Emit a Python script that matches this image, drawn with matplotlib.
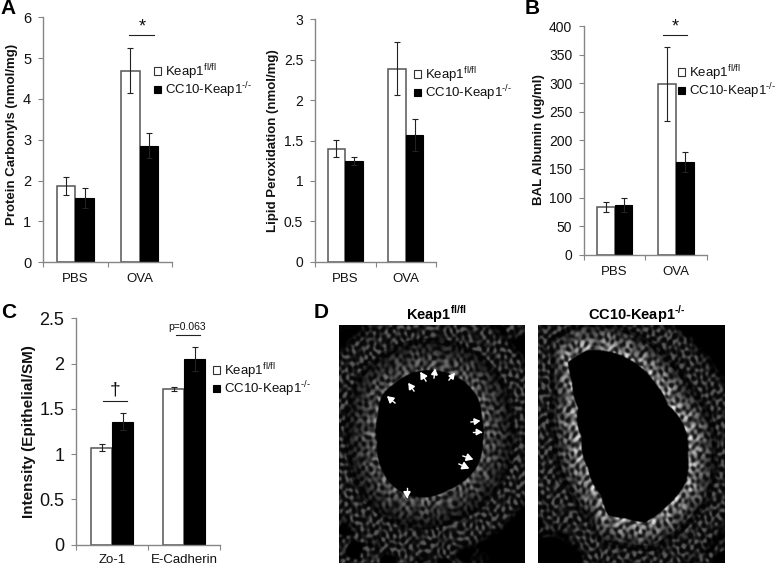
import numpy as np
import matplotlib
matplotlib.use("Agg")
import matplotlib.pyplot as plt
from matplotlib.patches import Patch
from matplotlib.transforms import Affine2D

plt.rcParams['font.family'] = ['Liberation Sans', 'DejaVu Sans']
plt.rcParams['mathtext.fontset'] = 'custom'
plt.rcParams['mathtext.rm'] = 'Liberation Sans'
plt.rcParams['mathtext.bf'] = 'Liberation Sans:bold'

W, H = 775, 567

groups_ab = ["PBS", "OVA"]
groups_c = ["Zo-1", "E-Cadherin"]
legend_labels = ["Keap1$^{\\mathregular{fl/fl}}$", "CC10-Keap1$^{\\mathregular{\u2010/\u2010}}$"]

carbonyl_wt = [1.88, 4.69]
carbonyl_ko = [1.58, 2.86]
carbonyl_wt_err = [0.22, 0.55]
carbonyl_ko_err = [0.25, 0.30]

lipid_wt = [1.40, 2.39]
lipid_ko = [1.25, 1.57]
lipid_wt_err = [0.11, 0.33]
lipid_ko_err = [0.05, 0.20]

albumin_wt = [84, 299]
albumin_ko = [87, 162]
albumin_wt_err = [9, 65]
albumin_ko_err = [12, 17]

intensity_wt = [1.07, 1.72]
intensity_ko = [1.36, 2.05]
intensity_wt_err = [0.04, 0.02]
intensity_ko_err = [0.09, 0.13]

# outlines of the airway lumens in panel D, in pixels of the figure
lumen_left = [(412, 373), (425, 370), (448, 373), (465, 382), (478, 398), (482, 418),
              (483, 442), (478, 465), (465, 480), (448, 490), (428, 497), (408, 495),
              (392, 485), (380, 465), (377, 442), (378, 415), (382, 395), (395, 383)]
lumen_right = [(568, 362), (588, 350), (615, 353), (638, 365), (655, 383), (668, 405),
               (685, 428), (688, 455), (686, 482), (668, 505), (645, 522), (625, 518),
               (608, 515), (601, 495), (588, 468), (582, 438), (578, 408), (572, 382)]
# black spaces around the airways: x, y, radius
holes_left = [(425, 328, 34), (350, 345, 18), (512, 530, 38), (520, 360, 18), (345, 395, 10)]
holes_right = [(705, 365, 34), (695, 325, 20), (545, 450, 18), (716, 520, 16), (590, 328, 14), (555, 555, 18), (722, 430, 14)]
# waves of the speckle: x frequency, y frequency, warp
waves = [(0.83, 0.11, 2.3), (0.13, 0.71, 2.7), (0.53, 0.61, 2.1), (0.67, -0.47, 1.9),
         (0.37, 0.89, 2.9), (0.97, -0.29, 1.7), (0.23, -0.59, 3.1)]
arrows_left = [(395, 403, 388, 397), (414, 391, 409, 384), (426, 381, 421, 373),
               (434, 378, 435, 370), (449, 380, 454, 374), (471, 422, 479, 421),
               (473, 432, 481, 432), (463, 456, 472, 459), (459, 464, 468, 468),
               (407, 488, 407, 497)]

fig = plt.figure(figsize=(W / 100, H / 100), dpi=100)
px = Affine2D().scale(1 / W, -1 / H).translate(0, 1) + fig.transFigure


def bars(box, wt, ko, wt_err, ko_err, names, ymax, step, ticklabels, ylabel, label_xy,
         legend_xy, fs=9.5, yfs=10.5, lab_fs=9.5, xpad=8):
    x0, x1, ytop, ybot = box
    ax = fig.add_axes([x0 / W, 1 - ybot / H, (x1 - x0) / W, (ybot - ytop) / H])
    pos = np.arange(len(names)) + 0.5
    w = 0.29
    ax.bar(pos - w / 2, wt, w, color="white", edgecolor="#555555", linewidth=1.1, zorder=2)
    ax.bar(pos + w / 2, ko, w, color="black", edgecolor="black", linewidth=0.8, zorder=2)
    ax.errorbar(pos - w / 2, wt, yerr=wt_err, fmt="none", ecolor="#222222", elinewidth=0.8,
                capsize=2.4, capthick=0.8, zorder=3)
    ax.errorbar(pos + w / 2, ko, yerr=ko_err, fmt="none", ecolor="#222222", elinewidth=0.8,
                capsize=2.4, capthick=0.8, zorder=3)
    ax.set_xlim(0, len(names))
    ax.set_ylim(0, ymax)
    ax.spines[["top", "right"]].set_visible(False)
    ax.spines[["left", "bottom"]].set_color("#868686")
    ax.spines[["left", "bottom"]].set_linewidth(1.0)
    ax.set_yticks(np.arange(0, ymax + step / 2, step), ticklabels, fontsize=yfs)
    ax.set_xticks(np.arange(len(names) + 1), [""] * (len(names) + 1))
    ax.set_xticks(pos, names, minor=True, fontsize=fs)
    ax.tick_params(axis="y", length=3.5, width=0.8, color="#868686", pad=5, labelcolor="#111111")
    ax.tick_params(axis="x", which="major", length=3.5, width=0.8, color="#868686")
    ax.tick_params(axis="x", which="minor", length=0, pad=xpad, labelcolor="#111111")
    fig.text(label_xy[0], label_xy[1], ylabel, transform=px, rotation=90, fontsize=lab_fs,
             fontweight="bold", ha="center", va="center", color="#111111")
    handles = [Patch(facecolor="white", edgecolor="#333333", linewidth=0.8),
               Patch(facecolor="black", edgecolor="black", linewidth=0.8)]
    fig.legend(handles, legend_labels, loc="upper left", bbox_to_anchor=legend_xy,
               bbox_transform=px, frameon=False, fontsize=fs, borderpad=0, borderaxespad=0,
               handlelength=0.55, handleheight=0.55, handletextpad=0.25, labelspacing=-0.1,
               labelcolor="#111111")
    return ax


def sig_line(x0, x1, y, label, tx, ty, fs):
    fig.add_artist(plt.Line2D([x0, x1], [y, y], transform=px, color="#222222", lw=0.8))
    fig.text(tx, ty, label, transform=px, ha="center", va="center", fontsize=fs, color="#111111")


def soften(img):
    kernel = np.array([1, 2, 1]) / 4
    img = np.apply_along_axis(np.convolve, 0, img, kernel, mode="same")
    return np.apply_along_axis(np.convolve, 1, img, kernel, mode="same")


def micrograph(box, lumen, holes, level, thick):
    x0, x1, y0, y1 = box
    ax = fig.add_axes([x0 / W, 1 - y1 / H, (x1 - x0) / W, (y1 - y0) / H])
    yy, xx = np.mgrid[y0:y1:0.5, x0:x1:0.5]
    pts = np.array(lumen, dtype=float)
    cx, cy = pts.mean(axis=0)
    ang = np.arctan2(pts[:, 1] - cy, pts[:, 0] - cx)
    rad = np.hypot(pts[:, 0] - cx, pts[:, 1] - cy)
    order = np.argsort(ang)
    r = np.hypot(xx - cx, yy - cy)
    theta = np.arctan2(yy - cy, xx - cx)
    edge = np.interp(theta, ang[order], rad[order], period=2 * np.pi)
    d = r - edge
    # irregular speckle made from warped waves
    speck = sum(np.sin(fx * xx + fy * yy + warp * np.sin(0.07 * xx * warp - 0.05 * yy))
                for fx, fy, warp in waves)
    speck = np.clip(0.5 + speck / 5, 0, 1)
    # cells sit side by side along the wall
    cells = 0.5 + 0.5 * np.sin(theta * 31 + 1.5 * np.sin(theta * 5))
    fade = np.clip(1.2 - np.maximum(d, 0) / (thick * 1.2), 0.35, 1.2)
    ring = level * (0.08 + 0.38 * speck + 0.22 * cells * speck) * fade
    outer = 0.03 + 0.32 * speck ** 2
    space = np.ones_like(d)
    for hx, hy, hr in holes:
        space *= np.clip(np.hypot(xx - hx, yy - hy) / hr - 0.85, 0, 1)
    web = np.clip(3.0 * (np.sin(0.17 * xx + 1.5 * np.sin(0.07 * yy)) * np.sin(0.15 * yy + 1.3 * np.sin(0.06 * xx)) + 0.3), 0, 1)
    near = np.clip((thick + 38 - d) / 10, 0, 1)
    outer = outer * np.maximum(web, near) * np.maximum(space, near)
    img = outer.copy()
    band = (d >= thick) & (d < thick + 6)
    img[band] = 0.4 * outer[band]
    img[d < thick] = ring[d < thick]
    img[d < 0] = 0.0
    img = soften(img)
    ax.imshow(img, cmap="gray", vmin=0, vmax=1, extent=[x0, x1, y1, y0], aspect="auto",
              interpolation="bilinear")
    ax.set_xticks([])
    ax.set_yticks([])
    ax.spines[:].set_visible(False)
    return ax


bars((43, 172, 17.3, 262.3), carbonyl_wt, carbonyl_ko, carbonyl_wt_err, carbonyl_ko_err, groups_ab,
     6, 1, ["0", "1", "2", "3", "4", "5", "6"], "Protein Carbonyls (nmol/mg)", (12, 134), (154, 62))
sig_line(129.3, 153.7, 34.7, "*", 142, 27, 13)

bars((315, 436, 19.3, 261.7), lipid_wt, lipid_ko, lipid_wt_err, lipid_ko_err, groups_ab,
     3, 0.5, ["0", "0.5", "1", "1.5", "2", "2.5", "3"], "Lipid Peroxidation (nmol/mg)", (273, 141), (414, 65),
     yfs=10)

bars((584, 706.7, 26, 254.7), albumin_wt, albumin_ko, albumin_wt_err, albumin_ko_err, groups_ab,
     400, 50, ["0", "50", "100", "150", "200", "250", "300", "350", "400"], "BAL Albumin (ug/ml)",
     (539, 140), (678, 63), yfs=10)
sig_line(663, 687, 34.7, "*", 675, 27, 13)

bars((76, 220.3, 318.3, 544.7), intensity_wt, intensity_ko, intensity_wt_err, intensity_ko_err, groups_c,
     2.5, 0.5, ["0", "0.5", "1", "1.5", "2", "2.5"], "Intensity (Epithelial/SM)", (29, 432), (213, 361),
     yfs=13, lab_fs=11, xpad=7)
sig_line(102.7, 127, 401, "\u2020", 115, 390, 14)
sig_line(176, 200, 335.3, "p=0.063", 186.7, 327, 7.5)

for letter, lx, ly in [("A", 0, 9), ("B", 525, 9), ("C", 1, 312), ("D", 314, 312)]:
    fig.text(lx, ly, letter, transform=px, fontsize=15, fontweight="bold", ha="left", va="center")

micrograph((339.3, 525.3, 325.3, 562.7), lumen_left, holes_left, 0.75, 26)
micrograph((538.3, 725, 325.3, 562.7), lumen_right, holes_right, 1.2, 24)
for x_a, y_a, x_b, y_b in arrows_left:
    fig.add_artist(plt.Line2D([x_a, x_b], [y_a, y_b], transform=px, color="white", lw=1))
    fig.add_artist(plt.Polygon([(x_b, y_b), (x_b - 0.6 * (x_b - x_a) - 0.35 * (y_b - y_a), y_b - 0.6 * (y_b - y_a) + 0.35 * (x_b - x_a)),
                                (x_b - 0.6 * (x_b - x_a) + 0.35 * (y_b - y_a), y_b - 0.6 * (y_b - y_a) - 0.35 * (x_b - x_a))],
                               transform=px, color="white"))

fig.text(436, 314, "Keap1$^{\\mathbf{fl/fl}}$", transform=px, fontsize=10.5, fontweight="bold", ha="center", va="center")
fig.text(637, 314, "CC10-Keap1$^{\\mathbf{\u2010/\u2010}}$", transform=px, fontsize=10.5, fontweight="bold", ha="center", va="center")

fig.savefig("out.png", dpi=100)
